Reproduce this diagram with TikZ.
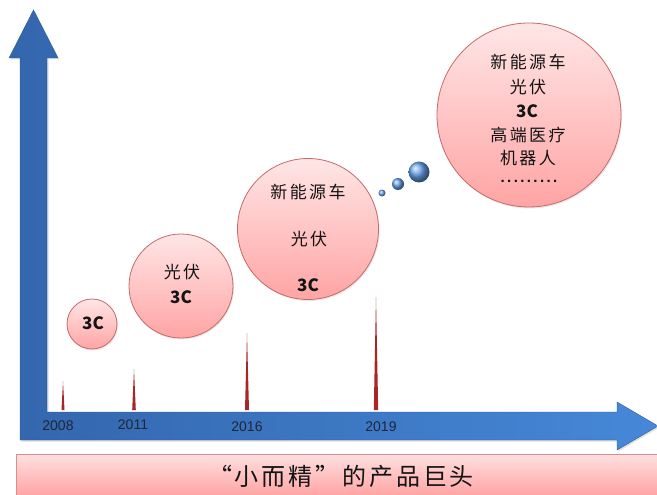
\documentclass[tikz,border=0pt]{standalone}
\usepackage{fontspec}
\newfontfamily\cjk[LetterSpace=14]{Noto Sans CJK SC}
\newfontfamily\cjkw[LetterSpace=12]{Noto Sans CJK SC}
\newfontfamily\cjkb{Noto Sans CJK SC}
\newfontfamily\yrfont{Liberation Sans}
\newfontfamily\dotfont[LetterSpace=16]{Liberation Sans}
\usetikzlibrary{shadows}
\definecolor{arrowL}{HTML}{3366AD}
\definecolor{arrowR}{HTML}{4688D8}
\definecolor{arrowedge}{HTML}{2C5A96}
\definecolor{pinktop}{HTML}{FFE6E6}
\definecolor{pinkbot}{HTML}{FFA4A4}
\definecolor{pinkedge}{HTML}{C86868}
\definecolor{spikered}{HTML}{A82626}
\definecolor{dotblue}{HTML}{6AA6F0}
\definecolor{yearcol}{HTML}{1E2638}
\definecolor{bantop}{HTML}{FFE0E0}
\definecolor{banbot}{HTML}{FF9E9E}
\definecolor{banedge}{HTML}{E08A8A}
\tikzset{
  bubble/.style={circle, draw=pinkedge, line width=0.8pt, top color=pinktop, bottom color=pinkbot, inner sep=0pt,
    drop shadow={opacity=0.18, shadow xshift=1pt, shadow yshift=-1.5pt}},
  bubtext/.style={font=\cjk\fontsize{17}{20}\selectfont, text=black!92},
  ctext/.style={font=\cjkb\bfseries\fontsize{17}{20}\selectfont, text=black!92},
  yeartext/.style={font=\yrfont\fontsize{14}{15}\selectfont, text=yearcol},
  bluedot/.style={circle, inner sep=0pt, shading=ball, ball color=dotblue},
  spikeshape/.style={fill=spikered},
}
\begin{document}
\begin{tikzpicture}[x=1pt, y=-1pt]
\useasboundingbox (0,0) rectangle (657,495);
\clip (0,0) rectangle (657,495);
% L-shaped axes arrow
\path[left color=arrowL, right color=arrowR, draw=arrowedge, line width=0.4pt,
      drop shadow={opacity=0.25, shadow xshift=1.5pt, shadow yshift=-1.5pt}]
  (33.5,10) -- (58,58) -- (47,58) -- (47,412) -- (617,412) -- (617,402) -- (658,426)
  -- (617,450) -- (617,440) -- (20,440) -- (20,58) -- (9,58) -- cycle;
% spikes
\fill[spikeshape] (61.5,410) -- (63,381) -- (64.5,410) -- cycle;
\fill[spikeshape] (132.2,410) -- (134,369) -- (135.8,410) -- cycle;
\fill[spikeshape] (245,410) -- (247,333) -- (249,410) -- cycle;
\fill[spikeshape] (373.8,410) -- (376,297) -- (378.2,410) -- cycle;
% years
\node[yeartext] (y2008) at (58,426) {2008};
\node[yeartext] (y2011) at (133,425) {2011};
\node[yeartext] (y2016) at (247,427) {2016};
\node[yeartext] (y2019) at (381,427) {2019};
% bubbles
\node[bubble, minimum size=50pt] (c1) at (92,324) {};
\node[ctext] (t1) at (93,323) {3C};
\node[bubble, minimum size=104pt] (c2) at (181,286) {};
\node[bubtext] (t2a) at (182,272) {光伏};
\node[ctext] (t2b) at (181,297) {3C};
\node[bubble, minimum size=141pt] (c3) at (308,229) {};
\node[bubtext] (t3a) at (308,192) {新能源车};
\node[bubtext] (t3b) at (309,239) {光伏};
\node[ctext] (t3c) at (308,285) {3C};
\node[bubble, minimum size=184pt] (c4) at (529,115) {};
\node[bubtext] (t4a) at (528,62) {新能源车};
\node[bubtext] (t4b) at (528,87) {光伏};
\node[ctext] (t4c) at (527,111) {3C};
\node[bubtext] (t4d) at (528,135) {高端医疗};
\node[bubtext] (t4e) at (528,158) {机器人};
\node[font=\dotfont\bfseries\fontsize{15}{16}\selectfont, text=black!92] (t4f) at (529,181) {.........};
% blue dots
\node[bluedot, minimum size=7pt] (d1) at (382,193) {};
\node[bluedot, minimum size=12pt] (d2) at (398,184) {};
\node[bluedot, minimum size=21pt] (d3) at (419,172) {};
% banner
\node[draw=banedge, line width=0.8pt, top color=bantop, bottom color=banbot,
      minimum width=644pt, minimum height=46pt, inner sep=0pt] (ban) at (338,477) {};
\node[font=\cjkw\fontsize{24}{26}\selectfont, text=black!92] (bantext) at (341,476) {“小而精”的产品巨头};
\end{tikzpicture}
\end{document}
